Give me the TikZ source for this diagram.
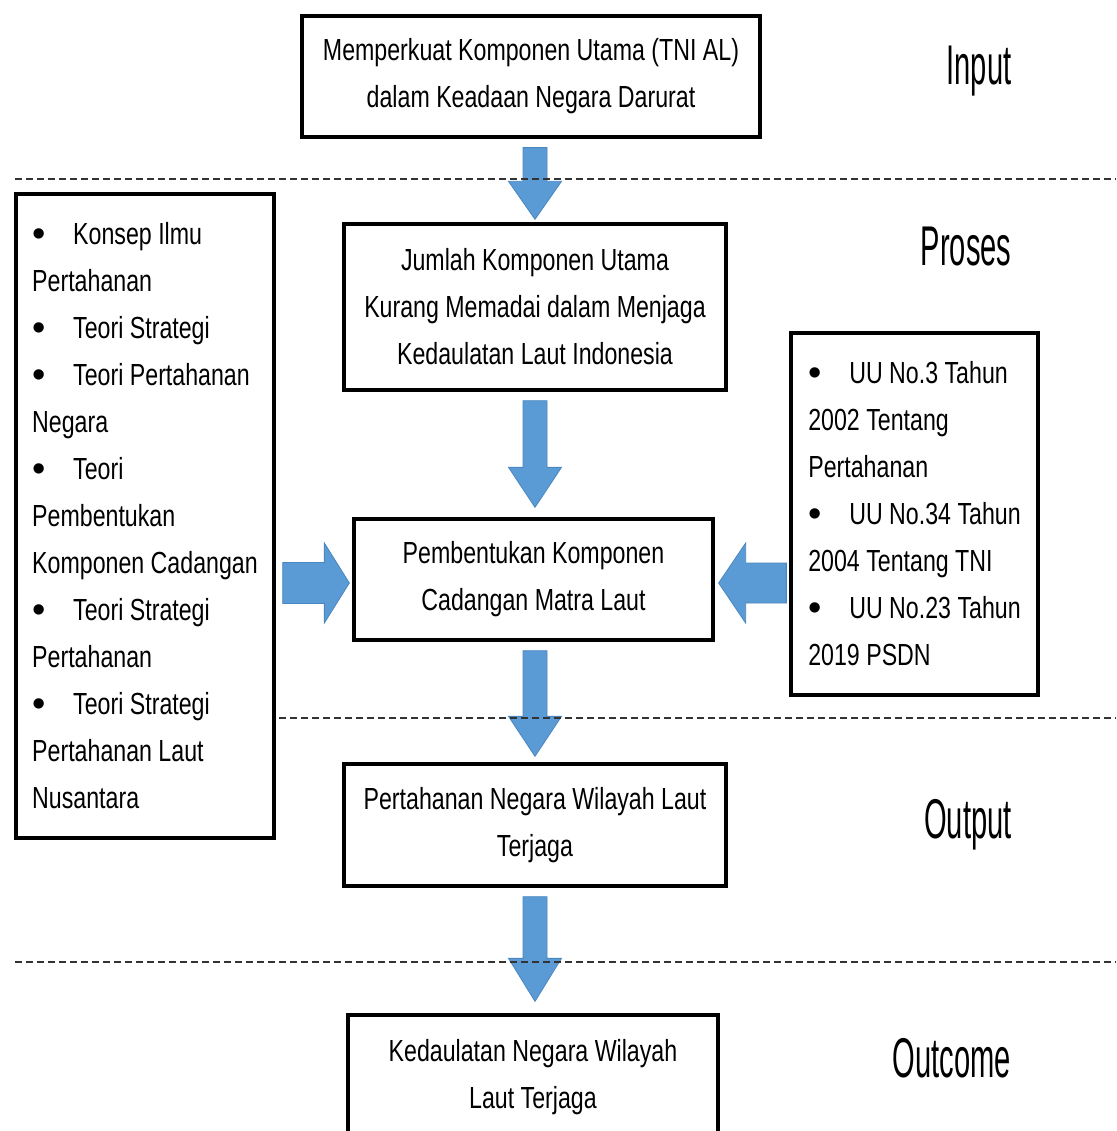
\documentclass[tikz,border=0pt]{standalone}
\usepackage{fontspec}
\setmainfont[FakeStretch=0.76]{Liberation Sans}
\newfontfamily\lblfont[FakeStretch=0.52]{Liberation Sans}
\newfontfamily\bulfont{Liberation Sans}
\usetikzlibrary{calc}
\definecolor{arrowfill}{HTML}{5B9BD5}
\definecolor{arrowedge}{HTML}{4A86C0}
\definecolor{dashcol}{HTML}{333333}
\newcommand\blockarrow[5]{%
  \coordinate (bhA) at #1;
  \coordinate (bhB) at #2;
  \coordinate (bhH) at ($(bhB)!#5!(bhA)$);
  \filldraw[barrow] ($(bhA)!#3!90:(bhB)$) -- ($(bhH)!#3!-90:(bhA)$) -- ($(bhH)!#4!-90:(bhA)$) -- (bhB)
     -- ($(bhH)!#4!90:(bhA)$) -- ($(bhH)!#3!90:(bhA)$) -- ($(bhA)!#3!-90:(bhB)$) -- cycle;}
\tikzset{
  box/.style={draw=black, line width=3.3pt, fill=white, rectangle, inner sep=0pt,
    font=\fontsize{30.5}{47}\selectfont, align=center},
  listbox/.style={box, align=left},
  barrow/.style={fill=arrowfill, draw=arrowedge, line width=0.8pt, line join=miter},
  sep/.style={draw=dashcol, line width=2pt, dash pattern=on 7pt off 4pt},
  stage/.style={font=\lblfont\fontsize{56}{60}\selectfont, anchor=base},
}
\newcommand\bul{\makebox[41pt][l]{\raisebox{-2pt}{\bulfont\fontsize{38}{47}\selectfont\textbullet}}}
\begin{document}
\begin{tikzpicture}[x=1pt,y=-1pt]
\useasboundingbox (0,0) rectangle (1116,1131);
\node[box, minimum width=458pt, minimum height=121pt] (top) at (531,76.5)
  {Memperkuat Komponen Utama (TNI AL)\\dalam Keadaan Negara Darurat};
\node[box, minimum width=382pt, minimum height=166pt] (jumlah) at (535,307)
  {Jumlah Komponen Utama\\Kurang Memadai dalam Menjaga\\Kedaulatan Laut Indonesia};
\node[box, minimum width=359pt, minimum height=121pt] (bentuk) at (533.5,579.5)
  {Pembentukan Komponen\\Cadangan Matra Laut};
\node[box, minimum width=382pt, minimum height=122pt] (output) at (535,825)
  {Pertahanan Negara Wilayah Laut\\Terjaga};
\node[box, minimum width=370pt, minimum height=125pt] (outcome) at (533,1077.5)
  {Kedaulatan Negara Wilayah\\Laut Terjaga};
% arrows
\blockarrow{($(top.south -| jumlah.north)+(0,9)$)}{($(jumlah.north)+(0,-3)$)}{12pt}{26.5pt}{38pt}
\blockarrow{($(jumlah.south)+(0,9)$)}{($(jumlah.south |- bentuk.north)+(0,-10)$)}{12pt}{26.5pt}{40pt}
\blockarrow{($(bentuk.south -| output.north)+(0,9)$)}{($(output.north)+(0,-6)$)}{12pt}{26.5pt}{40pt}
\blockarrow{($(output.south)+(0,9)$)}{($(output.south |- outcome.north)+(0,-12)$)}{12pt}{26.5pt}{43pt}
% dashed separators
\coordinate (d1a) at (15,179);   \coordinate (d1b) at (1116,179);
\coordinate (d2a) at (15,718);   \coordinate (d2b) at (1116,718);
\coordinate (d3a) at (15,962);   \coordinate (d3b) at (1116,962);
\draw[sep] (d1a) -- (d1b);
\draw[sep] (d2a) -- (d2b);
\draw[sep] (d3a) -- (d3b);
% side boxes
\node[listbox, minimum width=258pt, minimum height=644pt] (left) at (145,516)
  {\bul Konsep Ilmu\\Pertahanan\\\bul Teori Strategi\\\bul Teori Pertahanan\\Negara\\\bul Teori\\Pembentukan\\Komponen Cadangan\\\bul Teori Strategi\\Pertahanan\\\bul Teori Strategi\\Pertahanan Laut\\Nusantara};
\node[listbox, minimum width=247pt, minimum height=362pt] (right) at (914.5,514)
  {\bul UU No.3 Tahun\\2002 Tentang\\Pertahanan\\\bul UU No.34 Tahun\\2004 Tentang TNI\\\bul UU No.23 Tahun\\2019 PSDN};
% redraw central boxes on top of dashed lines
\node[box, minimum width=458pt, minimum height=121pt] at (top) 
  {Memperkuat Komponen Utama (TNI AL)\\dalam Keadaan Negara Darurat};
\node[box, minimum width=382pt, minimum height=166pt] at (jumlah)
  {Jumlah Komponen Utama\\Kurang Memadai dalam Menjaga\\Kedaulatan Laut Indonesia};
\node[box, minimum width=359pt, minimum height=121pt] at (bentuk)
  {Pembentukan Komponen\\Cadangan Matra Laut};
\node[box, minimum width=382pt, minimum height=122pt] at (output)
  {Pertahanan Negara Wilayah Laut\\Terjaga};
\node[box, minimum width=370pt, minimum height=125pt] at (outcome)
  {Kedaulatan Negara Wilayah\\Laut Terjaga};
% side arrows
\blockarrow{($(left.east |- bentuk.west)+(7,3.5)$)}{($(bentuk.west)+(-3,3.5)$)}{20.5pt}{40pt}{25pt}
\blockarrow{($(right.west |- bentuk.east)+(-3,3.5)$)}{($(bentuk.east)+(4,3.5)$)}{20pt}{40pt}{27pt}
% stage labels
\node[stage] (lin) at (979,85) {Input};
\node[stage] (lpr) at (966,266) {Proses};
\node[stage] (lou) at (968,838) {Output};
\node[stage] (loc) at (952,1077) {Outcome};
\end{tikzpicture}
\end{document}
